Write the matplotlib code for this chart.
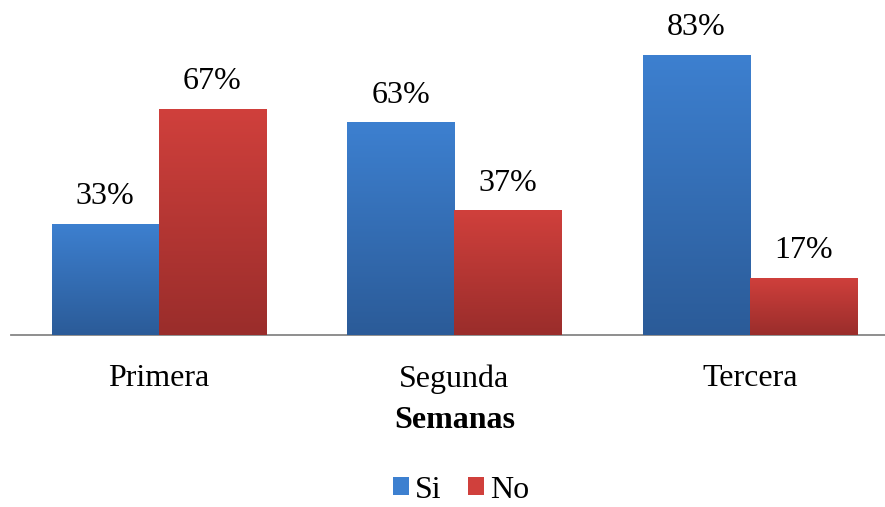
import matplotlib
matplotlib.use("Agg")
import matplotlib.pyplot as plt
import numpy as np
from matplotlib.colors import LinearSegmentedColormap
from matplotlib.patches import Patch

categories = ["Primera", "Segunda", "Tercera"]
si_values = [33, 63, 83]
no_values = [67, 37, 17]
series_names = ["Si", "No"]
xlabel = "Semanas"

plt.rcParams['font.family'] = ['Liberation Serif', 'DejaVu Serif']

W, H = 885, 507
fig = plt.figure(figsize=(W / 100, H / 100), dpi=100)
ax = fig.add_axes([11 / W, 172 / H, 887 / W, 304 / H])

x = np.arange(len(categories))
bw = 0.363
top_colors = {"Si": "#3d80d0", "No": "#d0403c"}
bot_colors = {"Si": "#2b5b98", "No": "#9a2d2b"}

ax.set_xlim(-0.5, 2.5)
ax.set_ylim(0, 90)

grad = np.linspace(0, 1, 256).reshape(-1, 1)
for name, vals, off in [("Si", si_values, -bw / 2), ("No", no_values, bw / 2)]:
    bars = ax.bar(x + off, vals, width=bw, color=top_colors[name], zorder=2)
    cmap = LinearSegmentedColormap.from_list(name, [bot_colors[name], top_colors[name]])
    for b, v in zip(bars, vals):
        bx, by, bwid, bh = b.get_x(), b.get_y(), b.get_width(), b.get_height()
        im = ax.imshow(grad, extent=[bx, bx + bwid, by, by + bh], origin='lower',
                       cmap=cmap, aspect='auto', zorder=3)
        im.set_clip_path(b)
        ax.annotate(f"{v}%", (bx + bwid / 2, by + bh), xytext=(0, 9),
                    textcoords='offset points', ha='center', va='bottom',
                    fontsize=23, color='black')

ax.set_xlim(-0.5, 2.5)
ax.set_ylim(0, 90)
for s in ["top", "right", "left"]:
    ax.spines[s].set_visible(False)
ax.spines["bottom"].set_color("#868686")
ax.spines["bottom"].set_linewidth(1.3)
ax.set_yticks([])
ax.set_xticks(x)
ax.set_xticklabels(categories, fontsize=23)
ax.tick_params(axis='x', length=0, pad=21)
ax.set_xlabel(xlabel, fontsize=23, fontweight='bold', labelpad=9)

handles = [Patch(facecolor=top_colors[n], edgecolor='none') for n in series_names]
fig.legend(handles, series_names, loc='center', bbox_to_anchor=(461 / W, 1 - 490 / H),
           ncol=2, frameon=False, fontsize=23, handlelength=0.5, handleheight=0.5,
           handletextpad=0.2, columnspacing=0.8, borderpad=0.1)

fig.savefig("out.png", dpi=100)
